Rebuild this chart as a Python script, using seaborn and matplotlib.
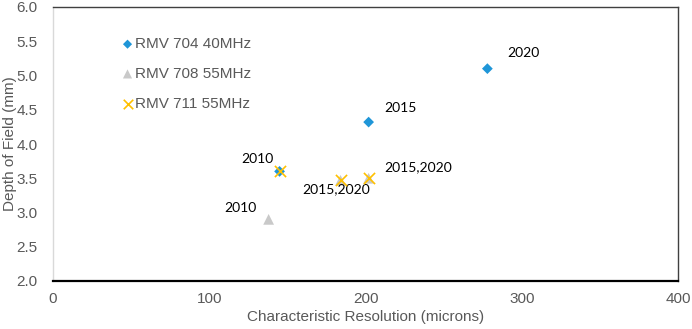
import pandas as pd
import matplotlib.pyplot as plt
import seaborn as sns

# Values
series_names = ['RMV 704 40MHz', 'RMV 708 55MHz', 'RMV 711 55MHz']

rmv704_res = [145, 202, 278]
rmv704_dof = [3.6, 4.32, 5.1]
rmv704_years = ['2010', '2015', '2020']

rmv708_res = [138, 184, 202]
rmv708_dof = [2.9, 3.47, 3.5]
rmv708_years = ['2010', '', '2015,2020']

rmv711_res = [145, 184, 202]
rmv711_dof = [3.6, 3.48, 3.5]
rmv711_years = ['', '2015,2020', '']

df = pd.concat([
    pd.DataFrame({'res': rmv704_res, 'dof': rmv704_dof, 'year': rmv704_years, 'series': series_names[0]}),
    pd.DataFrame({'res': rmv708_res, 'dof': rmv708_dof, 'year': rmv708_years, 'series': series_names[1]}),
    pd.DataFrame({'res': rmv711_res, 'dof': rmv711_dof, 'year': rmv711_years, 'series': series_names[2]}),
], ignore_index=True)

colors = {series_names[0]: '#1f96d8', series_names[1]: '#c9c9c9', series_names[2]: '#ffc000'}
markers = {series_names[0]: 'D', series_names[1]: '^', series_names[2]: 'x'}
sizes = {series_names[0]: 30, series_names[1]: 60, series_names[2]: 65}
zorders = {series_names[0]: 3, series_names[1]: 2, series_names[2]: 4}

sns.set_theme(style="white")
plt.rcParams['font.family'] = ['Liberation Sans', 'DejaVu Sans']

fig, ax = plt.subplots(figsize=(6.92, 3.29), dpi=100)
fig.subplots_adjust(left=53/692, right=678/692, top=1-7/329, bottom=1-281/329)

for name in series_names:
    sub = df[df['series'] == name]
    is_x = name == series_names[2]
    sns.scatterplot(data=sub, x='res', y='dof', ax=ax, color=colors[name], marker=markers[name],
                    s=sizes[name], linewidth=1.2 if is_x else 0,
                    edgecolor=colors[name] if is_x else 'none', label=name, zorder=zorders[name])

# year labels (offsets in points)
label_offsets = {
    (series_names[0], '2010'): (-4, 9, 'right'),
    (series_names[0], '2015'): (11, 10, 'left'),
    (series_names[0], '2020'): (14, 11, 'left'),
    (series_names[1], '2010'): (-9, 8, 'right'),
    (series_names[1], '2015,2020'): (11, 8, 'left'),
    (series_names[2], '2015,2020'): (-3, -7, 'center'),
}
for _, row in df.iterrows():
    if row['year'] == '':
        continue
    dx, dy, ha = label_offsets[(row['series'], row['year'])]
    ax.annotate(row['year'], (row['res'], row['dof']), xytext=(dx, dy), textcoords='offset points',
                ha=ha, va='center', fontsize=10, color='black', family=['Lato', 'DejaVu Sans'])

ax.set_xlim(0, 400)
ax.set_ylim(2.0, 6.0)
ax.set_xticks([0, 100, 200, 300, 400])
ax.set_yticks([2.0, 2.5, 3.0, 3.5, 4.0, 4.5, 5.0, 5.5, 6.0])
ax.set_yticklabels([f'{v:.1f}' for v in ax.get_yticks()])
ax.tick_params(axis='both', labelsize=11, labelcolor='#595959', length=0)
ax.tick_params(axis='x', pad=8)
ax.tick_params(axis='y', pad=11)
ax.set_xlabel('Characteristic Resolution (microns)', fontsize=11, color='#595959', labelpad=3)
ax.set_ylabel('Depth of Field (mm)', fontsize=11, color='#595959', labelpad=0)

ax.spines['left'].set_color('#d9d9d9')
ax.spines['left'].set_linewidth(1)
ax.spines['top'].set_color('#404040')
ax.spines['top'].set_linewidth(1)
ax.spines['right'].set_color('#404040')
ax.spines['right'].set_linewidth(1)
ax.spines['bottom'].set_color('black')
ax.spines['bottom'].set_linewidth(1.6)

leg = ax.legend(loc='upper left', bbox_to_anchor=(0.085, 0.94), frameon=False, fontsize=11,
                labelspacing=1.03, handletextpad=0.0, handlelength=1.0, markerscale=0.85)
for t in leg.get_texts():
    t.set_color('#595959')

fig.savefig('out.png', dpi=100)
